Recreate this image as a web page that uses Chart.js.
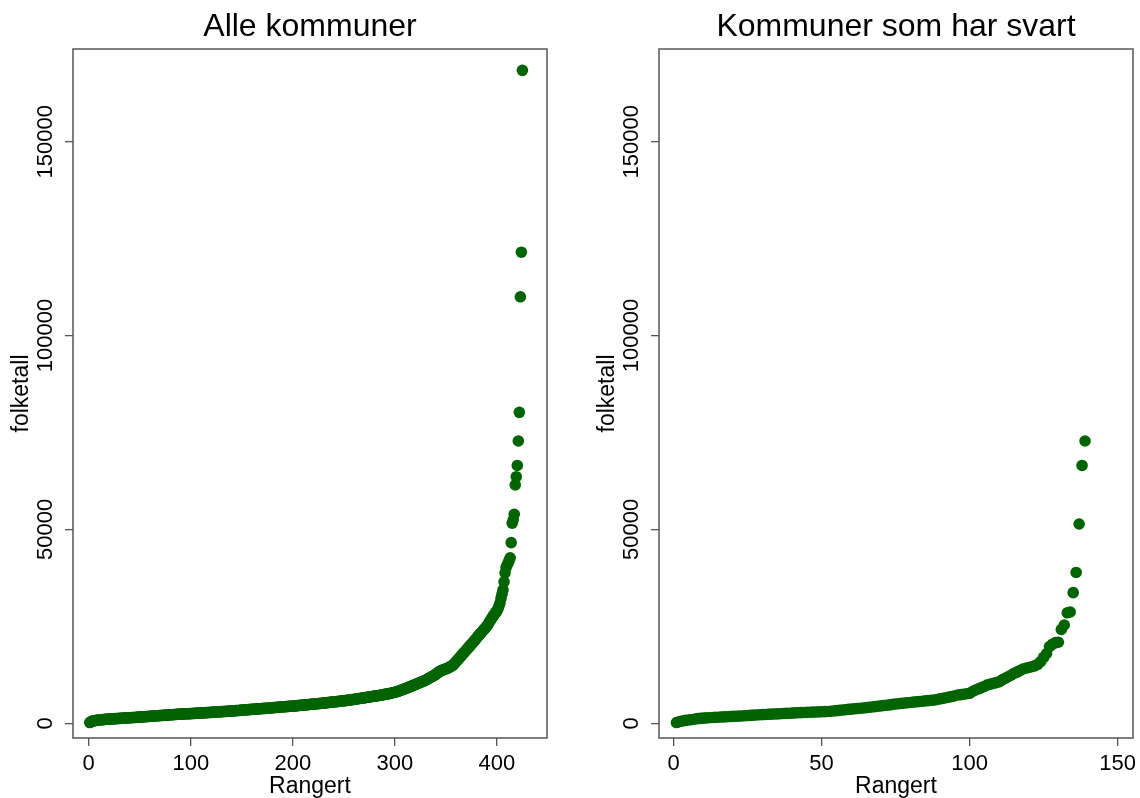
<!DOCTYPE html>
<html><head><meta charset="utf-8">
<script src="https://cdn.jsdelivr.net/npm/chart.js@4.4.0/dist/chart.umd.min.js"></script>
<style>
html,body{margin:0;padding:0;background:#fff;width:1140px;height:798px;overflow:hidden}
#l{position:absolute;left:0;top:0}
#r{position:absolute;left:570px;top:0}
</style>
</head><body>
<canvas id="l" width="570" height="798"></canvas>
<canvas id="r" width="570" height="798"></canvas>
<script>
const titleAll = "Alle kommuner";
const titleSvart = "Kommuner som har svart";
const xLabel = "Rangert";
const yLabel = "folketall";

// folketall, sorted (rank 1..425), all municipalities
const allValues = [
200,390,510,590,640,690,740,780,820,850,
880,910,935,960,985,1010,1035,1055,1080,1100,
1115,1130,1150,1165,1180,1200,1215,1230,1250,1265,
1280,1300,1315,1330,1350,1365,1380,1400,1415,1430,
1450,1465,1480,1500,1515,1530,1550,1570,1590,1610,
1630,1650,1670,1690,1705,1725,1745,1765,1785,1800,
1820,1840,1860,1880,1900,1920,1935,1955,1975,1995,
2015,2035,2050,2070,2090,2110,2130,2150,2170,2190,
2205,2225,2245,2265,2285,2300,2320,2340,2360,2380,
2395,2410,2420,2435,2445,2455,2465,2475,2490,2500,
2515,2530,2550,2565,2580,2600,2615,2630,2650,2665,
2680,2700,2715,2730,2750,2765,2780,2800,2815,2830,
2850,2865,2880,2900,2915,2930,2950,2965,2980,3000,
3015,3030,3050,3065,3080,3100,3120,3140,3160,3180,
3200,3220,3240,3260,3280,3300,3320,3340,3370,3400,
3420,3440,3460,3480,3500,3520,3540,3560,3580,3600,
3620,3640,3660,3680,3700,3720,3740,3760,3780,3800,
3820,3840,3860,3880,3900,3920,3940,3960,3990,4020,
4040,4060,4080,4100,4130,4150,4170,4200,4220,4240,
4260,4280,4300,4320,4340,4360,4380,4400,4420,4450,
4470,4500,4520,4550,4570,4600,4620,4650,4670,4700,
4720,4750,4770,4800,4820,4850,4870,4900,4920,4950,
4980,5000,5030,5050,5080,5110,5130,5160,5190,5210,
5240,5270,5300,5330,5360,5390,5420,5450,5480,5510,
5540,5570,5600,5630,5660,5690,5720,5750,5780,5800,
5840,5880,5910,5950,5990,6020,6060,6100,6140,6180,
6220,6260,6300,6340,6380,6420,6460,6500,6540,6580,
6620,6660,6700,6740,6790,6830,6870,6920,6960,7000,
7040,7080,7120,7160,7200,7250,7300,7350,7400,7450,
7500,7550,7600,7650,7700,7760,7820,7880,7940,8000,
8080,8160,8250,8340,8430,8520,8620,8720,8820,8920,
9020,9120,9230,9340,9450,9560,9670,9780,9890,10000,
10110,10220,10330,10440,10550,10660,10770,10880,10990,11100,
11250,11400,11550,11700,11850,12000,12150,12300,12450,12600,
12800,13000,13200,13400,13550,13650,13750,13850,13950,14050,
14150,14250,14400,14550,14700,14850,15000,15300,15600,15900,
16200,16500,16800,17100,17400,17700,18000,18300,18600,18900,
19200,19500,19800,20100,20400,20700,21000,21300,21600,22000,
22300,22600,22900,23200,23500,23800,24100,24400,24700,25000,
25400,25800,26300,26700,27100,27500,27900,28300,28600,29000,
29500,30200,31000,32200,33300,34400,36500,38800,40200,40800,
41400,42000,42700,46600,51600,52500,53900,61500,63600,66500,
72800,80200,110000,121500,168400
];

// folketall, sorted (rank 1..139), municipalities that answered
const svartValues = [
200,450,600,750,850,950,1050,1200,1280,1340,
1400,1450,1500,1540,1580,1620,1660,1700,1740,1780,
1820,1860,1900,1950,2000,2050,2100,2150,2200,2240,
2280,2320,2360,2400,2440,2480,2520,2560,2600,2640,
2680,2720,2760,2800,2830,2860,2890,2920,2950,2980,
3000,3060,3120,3190,3260,3340,3420,3500,3580,3660,
3740,3800,3870,3950,4040,4130,4220,4310,4400,4490,
4580,4670,4760,4870,4980,5060,5140,5220,5300,5380,
5460,5540,5620,5700,5780,5860,5930,6000,6150,6300,
6450,6600,6750,6900,7100,7300,7400,7500,7620,7740,
8200,8600,8900,9200,9500,9900,10100,10300,10500,10700,
11200,11600,12000,12400,12900,13200,13600,14000,14200,14400,
14600,14800,15200,15900,17000,18000,19800,20400,20800,20900,
24200,25350,28500,28700,33700,38900,51400,66500,72800
];

const xTicksAll = [0, 100, 200, 300, 400];
const xTicksSvart = [0, 50, 100, 150];
const yTicks = [0, 50000, 100000, 150000];

const FONT = '"Liberation Sans", Arial, "DejaVu Sans", sans-serif';
const GREEN = '#006400';
const AXIS = '#555555';

const boxPlugin = {
  id: 'box',
  beforeDatasetsDraw(chart) {
    const a = chart.chartArea, ctx = chart.ctx;
    ctx.save();
    ctx.strokeStyle = AXIS;
    ctx.lineWidth = 1.5;
    ctx.strokeRect(a.left, a.top, a.right - a.left, a.bottom - a.top);
    ctx.restore();
  }
};

function makeChart(id, title, values, xTicks, xMin, xMax, padLeft, padRight) {
  const pts = values.map((v, i) => ({x: i + 1, y: v}));
  const gridOpts = {display: true, drawOnChartArea: false, drawTicks: true, tickLength: 8,
                    color: AXIS, tickColor: AXIS, lineWidth: 1.3};
  return new Chart(document.getElementById(id), {
    type: 'scatter',
    data: {datasets: [{data: pts, backgroundColor: GREEN, borderWidth: 0,
                       pointRadius: 5.8, pointHoverRadius: 5.8}]},
    options: {
      responsive: false, animation: false, devicePixelRatio: 1,
      layout: {padding: {left: padLeft, right: padRight, top: 0, bottom: 0}},
      plugins: {
        legend: {display: false}, tooltip: {enabled: false},
        title: {display: true, text: title, fullSize: false, color: '#000',
                font: {family: FONT, size: 32, weight: 'normal', lineHeight: 1.2},
                padding: {top: 8, bottom: 2.6}}
      },
      scales: {
        x: {
          type: 'linear', min: xMin, max: xMax,
          afterBuildTicks: s => { s.ticks = xTicks.map(v => ({value: v})); },
          afterFit: s => { s.height = 60; s.paddingLeft = 0; s.paddingRight = 0; },
          grid: gridOpts, border: {display: false},
          ticks: {color: '#000', font: {family: FONT, size: 22}, padding: 5,
                  maxRotation: 0, autoSkip: false, callback: v => String(v)},
          title: {display: true, text: xLabel, color: '#000',
                  font: {family: FONT, size: 23}, padding: {top: 0, bottom: -2}}
        },
        y: {
          type: 'linear', min: -3790, max: 173900,
          afterBuildTicks: s => { s.ticks = yTicks.map(v => ({value: v})); },
          afterFit: s => { s.width = 73; s.paddingTop = 0; s.paddingBottom = 0; },
          grid: gridOpts, border: {display: false},
          ticks: {color: '#000', font: {family: FONT, size: 22}, minRotation: 90, maxRotation: 90,
                  crossAlign: 'center', padding: -18, autoSkip: false, callback: v => String(v)},
          title: {display: true, text: yLabel, color: '#000',
                  font: {family: FONT, size: 23}, padding: {top: 8, bottom: 0}}
        }
      }
    },
    plugins: [boxPlugin]
  });
}

makeChart('l', titleAll, allValues, xTicksAll, -15.4, 449.1, 0, 23);
makeChart('r', titleSvart, svartValues, xTicksSvart, -4.9, 155.2, 16, 7);
</script>
</body></html>
